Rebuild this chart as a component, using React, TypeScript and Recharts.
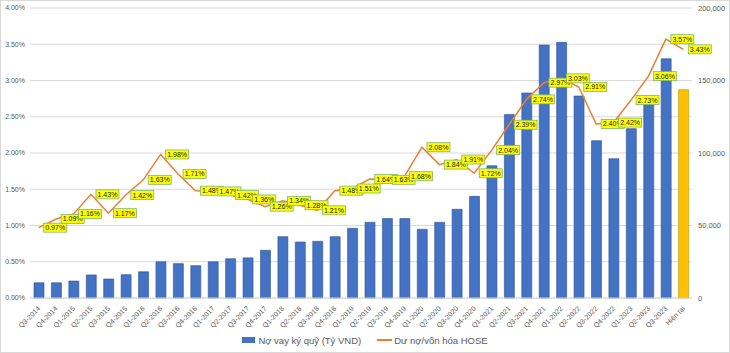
import { ComposedChart, Bar, Line, XAxis, YAxis, CartesianGrid, Legend, LabelList, Cell } from "recharts";

const categories = [
  "Q3-2014", "Q4-2014", "Q1-2015", "Q2-2015", "Q3-2015", "Q4-2015", "Q1-2016", "Q2-2016",
  "Q3-2016", "Q4-2016", "Q1-2017", "Q2-2017", "Q3-2017", "Q4-2017", "Q1-2018", "Q2-2018",
  "Q3-2018", "Q4-2018", "Q1-2019", "Q2-2019", "Q3-2019", "Q4-2019", "Q1-2020", "Q2-2020",
  "Q3-2020", "Q4-2020", "Q1-2021", "Q2-2021", "Q3-2021", "Q4-2021", "Q1-2022", "Q2-2022",
  "Q3-2022", "Q4-2022", "Q1-2023", "Q2-2023", "Q3-2023", "Hiện tại",
];

// Nợ vay ký quỹ (Tỷ VND)
const marginDebt = [
  10500, 10500, 11700, 15900, 13100, 16100, 18100, 25000,
  23700, 22300, 25000, 27100, 27700, 32900, 42300, 38600,
  39100, 42300, 48100, 52200, 54800, 54800, 47400, 52200,
  61200, 70100, 91200, 126600, 141400, 174500, 176300, 139300,
  108500, 96100, 116800, 133300, 165000, 143700,
];

// Dư nợ/vốn hóa HOSE (%)
const debtToCap = [
  0.97, 1.09, 1.16, 1.43, 1.17, 1.42, 1.63, 1.98,
  1.71, 1.48, 1.47, 1.42, 1.36, 1.26, 1.34, 1.28,
  1.21, 1.48, 1.51, 1.64, 1.63, 1.68, 2.08, 1.84,
  1.91, 1.72, 2.04, 2.39, 2.74, 2.97, 3.03, 2.91,
  2.40, 2.42, 2.73, 3.06, 3.57, 3.43,
];

const leftTicks = [0, 0.5, 1, 1.5, 2, 2.5, 3, 3.5, 4];
const rightTicks = [0, 50000, 100000, 150000, 200000];

const data = categories.map((period, i) => ({
  period,
  debt: marginDebt[i],
  ratio: debtToCap[i],
}));

const FONT = "'Liberation Sans', Arial, sans-serif";
const GREY = "#595959";

const XTick = ({ x, y, payload }: any) => {
  const ax = x + 2;
  const ay = y + 9;
  return (
    <text
      x={ax}
      y={ay}
      textAnchor="end"
      transform={`rotate(-45 ${ax} ${ay})`}
      fontSize={7}
      fill={GREY}
      fontFamily={FONT}
    >
      {payload.value}
    </text>
  );
};

const RatioLabel = (props: any) => {
  const { x, y, value } = props;
  if (x == null || y == null) return null;
  const w = 23;
  const h = 9;
  const bx = x + 5;
  const by = y - h / 2;
  return (
    <g>
      <rect x={bx} y={by} width={w} height={h} fill="#FFFF00" stroke="#7DB86A" strokeWidth={0.8} />
      <text
        x={bx + w / 2}
        y={by + h / 2}
        dy="0.35em"
        textAnchor="middle"
        fontSize={7}
        fill="#1a1a1a"
        fontFamily={FONT}
      >
        {Number(value).toFixed(2)}%
      </text>
    </g>
  );
};

const LegendBox = () => (
  <div
    style={{
      display: "flex",
      justifyContent: "center",
      alignItems: "center",
      height: 14,
      fontSize: 9.5,
      color: GREY,
      fontFamily: FONT,
    }}
  >
    <span style={{ display: "inline-block", width: 13, height: 6, background: "#4472C4", marginRight: 3 }} />
    <span>Nợ vay ký quỹ (Tỷ VND)</span>
    <span style={{ display: "inline-block", width: 15, height: 2, background: "#ED7D31", marginLeft: 16, marginRight: 2 }} />
    <span>Dư nợ/vốn hóa HOSE</span>
  </div>
);

export default function App() {
  return (
    <div style={{ position: "absolute", left: 0, top: 0, width: 730, height: 353, background: "#fff" }}>
      <ComposedChart
        width={730}
        height={353}
        data={data}
        margin={{ top: 8, right: 0, left: 0, bottom: 0 }}
        barSize={10}
      >
        <CartesianGrid yAxisId="left" vertical={false} stroke="#D9D9D9" />
        <XAxis
          dataKey="period"
          interval={0}
          tick={<XTick />}
          tickLine={false}
          tickSize={0}
          axisLine={{ stroke: "#D9D9D9" }}
          height={35}
        />
        <YAxis
          yAxisId="left"
          domain={[0, 4]}
          ticks={leftTicks}
          tickFormatter={(v: number) => v.toFixed(2) + "%"}
          axisLine={false}
          tickLine={false}
          tickSize={4}
          tickMargin={1}
          width={30}
          tick={{ fontSize: 7, fill: GREY, fontFamily: FONT }}
        />
        <YAxis
          yAxisId="right"
          orientation="right"
          domain={[0, 200000]}
          ticks={rightTicks}
          tickFormatter={(v: number) => v.toLocaleString("en-US")}
          axisLine={false}
          tickLine={false}
          tickSize={5}
          tickMargin={1}
          width={38}
          tick={{ fontSize: 7.5, fill: GREY, fontFamily: FONT, textAnchor: "start" }}
        />
        <Legend verticalAlign="bottom" height={20} content={<LegendBox />} />
        <Bar yAxisId="right" dataKey="debt" fill="#4472C4" stroke="#2F528F" strokeWidth={0.6} isAnimationActive={false}>
          {data.map((d, i) => (
            <Cell
              key={d.period}
              fill={i === data.length - 1 ? "#FFC000" : "#4472C4"}
              stroke={i === data.length - 1 ? "#BF9000" : "#2F528F"}
            />
          ))}
        </Bar>
        <Line
          yAxisId="left"
          type="linear"
          dataKey="ratio"
          stroke="#ED7D31"
          strokeWidth={1.5}
          dot={false}
          activeDot={false}
          isAnimationActive={false}
        >
          <LabelList dataKey="ratio" content={<RatioLabel />} />
        </Line>
      </ComposedChart>
      <div
        style={{
          position: "absolute",
          left: 0,
          top: 0,
          width: 730,
          height: 353,
          boxSizing: "border-box",
          border: "1px solid #D9D9D9",
          pointerEvents: "none",
        }}
      />
    </div>
  );
}
